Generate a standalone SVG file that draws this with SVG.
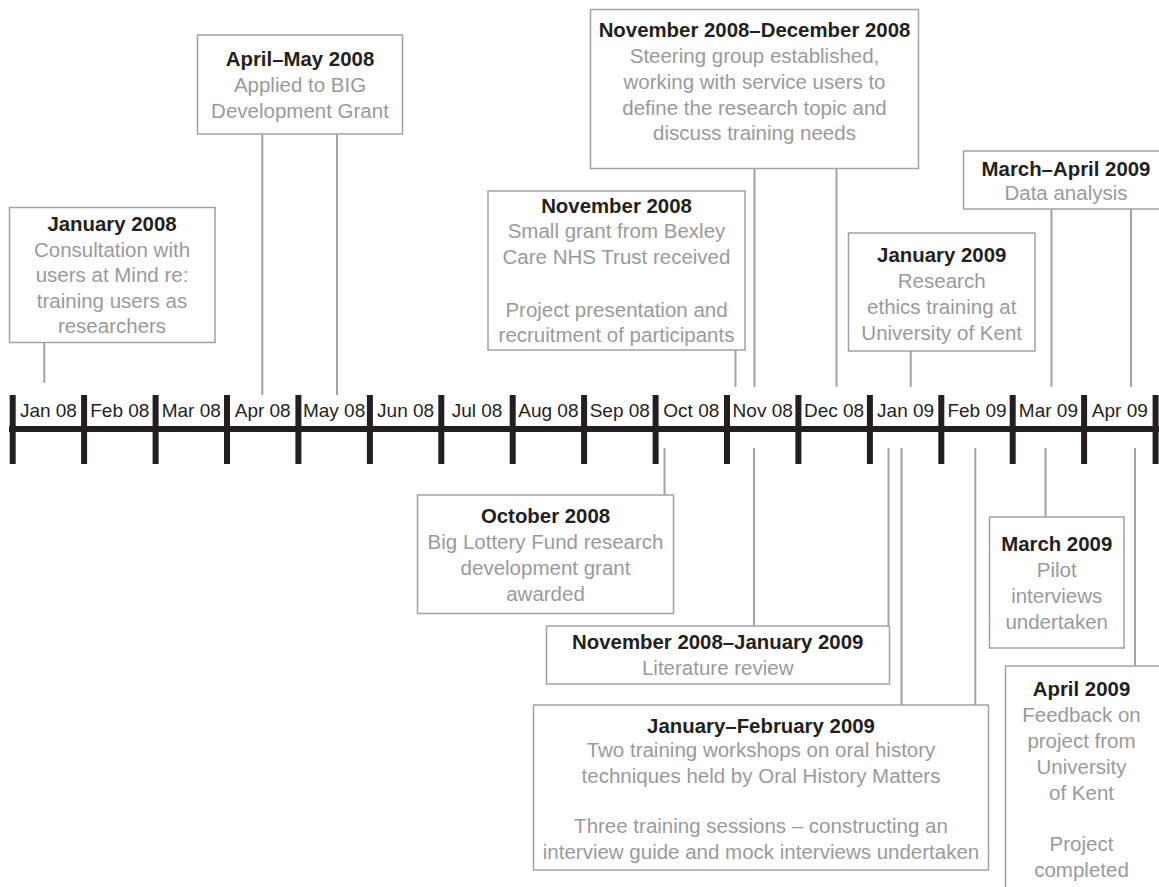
<svg xmlns="http://www.w3.org/2000/svg" width="1159" height="887" viewBox="0 0 1159 887">
<style>
.box{fill:#fff;stroke:#a3a3a3;stroke-width:1.5}
.t{font-family:"Liberation Sans",Arial,sans-serif;font-size:20.4px;font-weight:bold;fill:#231f20;text-anchor:middle}
.b{font-family:"Liberation Sans",Arial,sans-serif;font-size:20.5px;fill:#9a9a9a;text-anchor:middle}
.m{font-family:"Liberation Sans",Arial,sans-serif;font-size:19px;fill:#231f20;text-anchor:middle}
.c{stroke:#a3a3a3;stroke-width:2;fill:none}
.tick{fill:#231f20}
</style>
<rect width="1159" height="887" fill="#fff"/>
<g id="connectors">
<line class="c" x1="44.3" y1="342" x2="44.3" y2="383"/>
<line class="c" x1="262.3" y1="134" x2="262.3" y2="395"/>
<line class="c" x1="337" y1="134" x2="337" y2="395"/>
<line class="c" x1="735.5" y1="350" x2="735.5" y2="387"/>
<line class="c" x1="754.5" y1="168" x2="754.5" y2="387"/>
<line class="c" x1="836.5" y1="168" x2="836.5" y2="387"/>
<line class="c" x1="910.7" y1="351" x2="910.7" y2="387"/>
<line class="c" x1="1051.5" y1="209" x2="1051.5" y2="387"/>
<line class="c" x1="1131" y1="209" x2="1131" y2="387"/>
<line class="c" x1="664.5" y1="448" x2="664.5" y2="495"/>
<line class="c" x1="754" y1="448" x2="754" y2="626"/>
<line class="c" x1="888.5" y1="448" x2="888.5" y2="626"/>
<line class="c" x1="901.5" y1="448" x2="901.5" y2="705"/>
<line class="c" x1="975.3" y1="448" x2="975.3" y2="705"/>
<line class="c" x1="1045.5" y1="448" x2="1045.5" y2="517"/>
<line class="c" x1="1135" y1="448" x2="1135" y2="666"/>
</g>
<g id="timeline">
<rect class="tick" x="9" y="426" width="1150" height="6"/>
<rect class="tick" x="9.7" y="395" width="6" height="69"/>
<rect class="tick" x="81.1" y="395" width="6" height="69"/>
<rect class="tick" x="152.6" y="395" width="6" height="69"/>
<rect class="tick" x="224" y="395" width="6" height="69"/>
<rect class="tick" x="295.4" y="395" width="6" height="69"/>
<rect class="tick" x="366.9" y="395" width="6" height="69"/>
<rect class="tick" x="438.3" y="395" width="6" height="69"/>
<rect class="tick" x="509.7" y="395" width="6" height="69"/>
<rect class="tick" x="581.1" y="395" width="6" height="69"/>
<rect class="tick" x="652.6" y="395" width="6" height="69"/>
<rect class="tick" x="724" y="395" width="6" height="69"/>
<rect class="tick" x="795.4" y="395" width="6" height="69"/>
<rect class="tick" x="866.9" y="395" width="6" height="69"/>
<rect class="tick" x="938.3" y="395" width="6" height="69"/>
<rect class="tick" x="1009.7" y="395" width="6" height="69"/>
<rect class="tick" x="1081.1" y="395" width="6" height="69"/>
<rect class="tick" x="1152.6" y="395" width="6" height="69"/>
<text class="m" x="48.4" y="416.7">Jan 08</text>
<text class="m" x="119.8" y="416.7">Feb 08</text>
<text class="m" x="191.3" y="416.7">Mar 08</text>
<text class="m" x="262.7" y="416.7">Apr 08</text>
<text class="m" x="334.1" y="416.7">May 08</text>
<text class="m" x="405.6" y="416.7">Jun 08</text>
<text class="m" x="477" y="416.7">Jul 08</text>
<text class="m" x="548.4" y="416.7">Aug 08</text>
<text class="m" x="619.8" y="416.7">Sep 08</text>
<text class="m" x="691.3" y="416.7">Oct 08</text>
<text class="m" x="762.7" y="416.7">Nov 08</text>
<text class="m" x="834.1" y="416.7">Dec 08</text>
<text class="m" x="905.6" y="416.7">Jan 09</text>
<text class="m" x="977" y="416.7">Feb 09</text>
<text class="m" x="1048.4" y="416.7">Mar 09</text>
<text class="m" x="1119.8" y="416.7">Apr 09</text>
</g>
<g id="jan2008">
<rect class="box" x="9.5" y="207.5" width="205.5" height="135"/>
<text class="t" x="112" y="230.5">January 2008</text>
<text class="b" x="112" y="256.7">Consultation with</text>
<text class="b" x="112" y="282.2">users at Mind re:</text>
<text class="b" x="112" y="307.7">training users as</text>
<text class="b" x="112" y="333.2">researchers</text>
</g>
<g id="aprmay2008">
<rect class="box" x="197.5" y="35" width="205" height="99"/>
<text class="t" x="300" y="66">April–May 2008</text>
<text class="b" x="300" y="92.3">Applied to BIG</text>
<text class="b" x="300" y="118.3">Development Grant</text>
</g>
<g id="novdec2008">
<rect class="box" x="590.5" y="9.5" width="328" height="159"/>
<text class="t" x="754.5" y="37.3">November 2008–December 2008</text>
<text class="b" x="754.5" y="63.3">Steering group established,</text>
<text class="b" x="754.5" y="89">working with service users to</text>
<text class="b" x="754.5" y="114.7">define the research topic and</text>
<text class="b" x="754.5" y="140.4">discuss training needs</text>
</g>
<g id="nov2008">
<rect class="box" x="488" y="191" width="257" height="159"/>
<text class="t" x="616.5" y="213.3">November 2008</text>
<text class="b" x="616.5" y="237.8">Small grant from Bexley</text>
<text class="b" x="616.5" y="263.5">Care NHS Trust received</text>
<text class="b" x="616.5" y="316.7">Project presentation and</text>
<text class="b" x="616.5" y="342.3">recruitment of participants</text>
</g>
<g id="jan2009">
<rect class="box" x="848.5" y="233" width="186.5" height="118"/>
<text class="t" x="941.7" y="261.7">January 2009</text>
<text class="b" x="941.7" y="288.3">Research</text>
<text class="b" x="941.7" y="314">ethics training at</text>
<text class="b" x="941.7" y="339.5">University of Kent</text>
</g>
<g id="marapr2009">
<rect class="box" x="963.5" y="151" width="210" height="58"/>
<text class="t" x="1066" y="175.7">March–April 2009</text>
<text class="b" x="1066" y="200">Data analysis</text>
</g>
<g id="oct2008">
<rect class="box" x="417.5" y="495" width="256" height="118.5"/>
<text class="t" x="545.5" y="523.3">October 2008</text>
<text class="b" x="545.5" y="549.3">Big Lottery Fund research</text>
<text class="b" x="545.5" y="575">development grant</text>
<text class="b" x="545.5" y="600.7">awarded</text>
</g>
<g id="novjan2009">
<rect class="box" x="546.5" y="626" width="343" height="58"/>
<text class="t" x="717.7" y="649">November 2008–January 2009</text>
<text class="b" x="717.7" y="675">Literature review</text>
</g>
<g id="janfeb2009">
<rect class="box" x="533.5" y="705" width="455" height="165"/>
<text class="t" x="761" y="732.7">January–February 2009</text>
<text class="b" x="761" y="757.3">Two training workshops on oral history</text>
<text class="b" x="761" y="782.5">techniques held by Oral History Matters</text>
<text class="b" x="761" y="833.3">Three training sessions – constructing an</text>
<text class="b" x="761" y="858.5">interview guide and mock interviews undertaken</text>
</g>
<g id="mar2009">
<rect class="box" x="989.5" y="517" width="134.5" height="131"/>
<text class="t" x="1056.7" y="551">March 2009</text>
<text class="b" x="1056.7" y="577.3">Pilot</text>
<text class="b" x="1056.7" y="603.3">interviews</text>
<text class="b" x="1056.7" y="629">undertaken</text>
</g>
<g id="apr2009">
<rect class="box" x="1005.5" y="666" width="170" height="240"/>
<text class="t" x="1081.5" y="695.7">April 2009</text>
<text class="b" x="1081.5" y="722.3">Feedback on</text>
<text class="b" x="1081.5" y="748.3">project from</text>
<text class="b" x="1081.5" y="774">University</text>
<text class="b" x="1081.5" y="799.5">of Kent</text>
<text class="b" x="1081.5" y="850.7">Project</text>
<text class="b" x="1081.5" y="876.7">completed</text>
</g>
</svg>
